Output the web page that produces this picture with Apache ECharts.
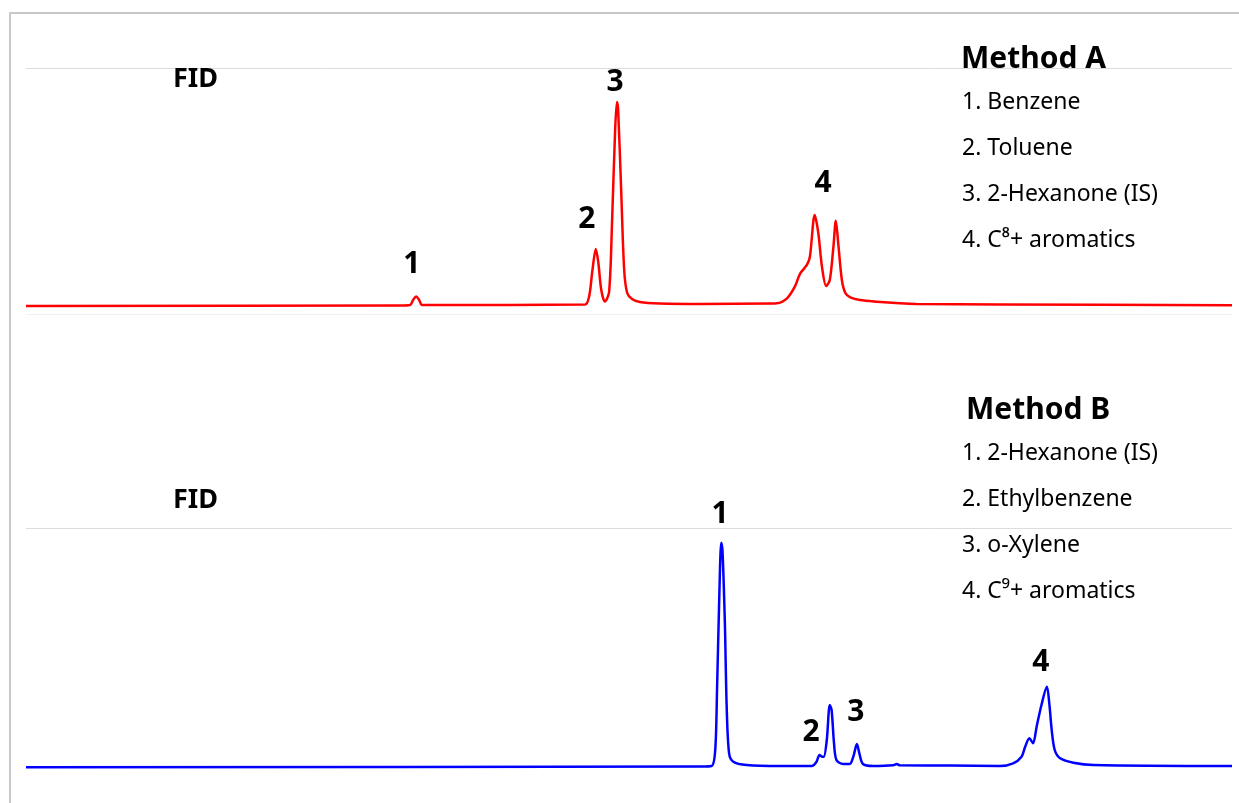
<!DOCTYPE html>
<html><head><meta charset="utf-8">
<script src="https://cdn.jsdelivr.net/npm/echarts@6/dist/echarts.min.js"></script>
<style>html,body{margin:0;padding:0;background:#fff}#c{width:1239px;height:803px}</style>
</head><body><div id="c"></div>
<script>
// Method A (red trace): retention time (min) and detector signal (relative units)
const timeA = [0, 6.20, 6.37, 6.42, 6.47, 6.52, 6.57, 6.87, 9.27, 9.34, 9.39, 9.45, 9.49, 9.54, 9.60, 9.67, 9.72, 9.77, 9.80, 9.82, 9.87, 9.92, 9.97, 10.05, 10.18, 10.51, 11.18, 12.34,
  12.45, 12.62, 12.75, 12.84, 12.95, 13.00, 13.08, 13.14, 13.20, 13.27, 13.33, 13.39, 13.43, 13.47, 13.53, 13.59, 13.67, 13.83, 14.11, 14.49, 14.77, 16.15, 20];
const signalA = [3.25, 3.46, 3.66, 5.69, 7.11, 5.69, 3.66, 3.66, 3.86, 7.32, 17.07, 26.42, 21.14, 9.76, 5.08, 8.94, 38.2, 74.8, 86.2, 83.0, 50.4, 17.9, 8.54, 6.1, 4.88, 4.27, 4.07, 4.27,
  4.35, 6.38, 11.10, 16.54, 19.92, 23.29, 40.24, 32.80, 19.23, 11.38, 13.82, 27.36, 37.93, 28.74, 13.82, 8.41, 6.79, 5.69, 5.0, 4.35, 4.07, 3.86, 3.54];
// Method B (blue trace)
const timeB = [0, 11.18, 11.37, 11.43, 11.46, 11.50, 11.53, 11.55, 11.59, 11.62, 11.66, 11.73, 11.95, 12.50, 13.03, 13.11, 13.16, 13.20, 13.23, 13.28, 13.33, 13.36, 13.40, 13.44, 13.55, 13.66, 13.72, 13.78, 13.82, 13.88, 14.05, 14.38, 14.44, 14.49,
  15.32, 16.15, 16.37, 16.51, 16.57, 16.64, 16.70, 16.76, 16.84, 16.93, 16.97, 17.01, 17.06, 17.15, 17.37, 17.70, 20];
const signalB = [1.12, 1.45, 1.65, 8.26, 33.06, 74.38, 93.93, 90.91, 60.62, 26.16, 6.90, 3.43, 2.07, 1.65, 1.65, 3.43, 6.20, 5.50, 5.50, 12.40, 26.86, 24.79, 11.03, 4.13, 2.48, 2.48, 5.50, 10.74, 6.90, 2.48, 1.65, 1.94, 2.48, 1.94,
  1.86, 1.65, 2.77, 5.50, 9.63, 13.10, 11.03, 17.89, 26.86, 34.42, 27.56, 16.53, 8.26, 4.83, 3.02, 2.07, 1.65];
// Peak number labels (time, level)
const peakNamesA = ['1', '2', '3', '4'];
const peakTimeA = [6.40, 9.30, 9.77, 13.22];
const peakLevelA = [20.3, 38.6, 94.0, 53.0];
const peakNamesB = ['1', '2', '3', '4'];
const peakTimeB = [11.51, 13.02, 13.76, 16.83];
const peakLevelB = [105.4, 15.7, 23.6, 44.6];
// Legend texts
const titleA = 'Method A';
const listA = ['1. Benzene', '2. Toluene', '3. 2-Hexanone (IS)', '4. C\u2078+ aromatics'];
const titleB = 'Method B';
const listB = ['1. 2-Hexanone (IS)', '2. Ethylbenzene', '3. o-Xylene', '4. C\u2079+ aromatics'];
const detector = 'FID';

const FONT = '"Noto Sans", sans-serif';
const chart = echarts.init(document.getElementById('c'));
const zip = (a, b) => a.map((v, i) => [v, b[i]]);
const peaks = (n, t, l) => n.map((s, i) => ({ value: [t[i], l[i]], name: s }));

function xAxis(idx) {
  return { gridIndex: idx, type: 'value', min: 0, max: 20, show: false };
}
function yAxis(idx, colors) {
  return { gridIndex: idx, type: 'value', min: 0, max: 100, interval: 100,
    axisLine: { show: false }, axisTick: { show: false }, axisLabel: { show: false },
    splitLine: { show: true, lineStyle: { color: colors, width: 1 } } };
}
const txt = (x, y, s, font) => ({ type: 'text', left: x, top: y, z: 100, style: { text: s, font: font, fill: '#000' } });
const graphic = [
  { type: 'line', shape: { x1: 10, y1: 13, x2: 1239, y2: 13 }, style: { stroke: '#c8c8c8', lineWidth: 2 } },
  { type: 'line', shape: { x1: 10, y1: 12, x2: 10, y2: 803 }, style: { stroke: '#c8c8c8', lineWidth: 2 } },
  txt(173, 66, detector, 'bold 27px ' + FONT),
  txt(173, 487, detector, 'bold 27px ' + FONT),
  txt(961, 44, titleA, 'bold 30px ' + FONT),
  txt(966, 395, titleB, 'bold 30px ' + FONT)
];
listA.forEach((s, i) => graphic.push(txt(962, 91 + i * 46, s, '23px ' + FONT)));
listB.forEach((s, i) => graphic.push(txt(962, 442 + i * 46, s, '23px ' + FONT)));

const labelSeries = (xi, data) => ({
  type: 'scatter', xAxisIndex: xi, yAxisIndex: xi, symbolSize: 0, clip: false, silent: true, z: 10,
  itemStyle: { opacity: 1 },
  data: data,
  label: { show: true, position: 'inside', formatter: p => p.name, fontFamily: FONT, fontWeight: 'bold', fontSize: 30, color: '#000', textBorderWidth: 0, opacity: 1 }
});

chart.setOption({
  animation: false,
  backgroundColor: '#fff',
  grid: [
    { left: 26, right: 7, top: 68, height: 246 },
    { left: 26, right: 7, top: 528, height: 242 }
  ],
  xAxis: [xAxis(0), xAxis(1)],
  yAxis: [yAxis(0, ['#f0f0f0', '#dcdcdc']), yAxis(1, ['rgba(0,0,0,0)', '#dcdcdc'])],
  graphic: graphic,
  series: [
    { type: 'line', xAxisIndex: 0, yAxisIndex: 0, data: zip(timeA, signalA), showSymbol: false, smooth: 0.3,
      lineStyle: { color: '#ff0000', width: 2.5 }, silent: true },
    { type: 'line', xAxisIndex: 1, yAxisIndex: 1, data: zip(timeB, signalB), showSymbol: false, smooth: 0.3,
      lineStyle: { color: '#0000ff', width: 2.5 }, silent: true },
    labelSeries(0, peaks(peakNamesA, peakTimeA, peakLevelA)),
    labelSeries(1, peaks(peakNamesB, peakTimeB, peakLevelB))
  ]
});
</script></body></html>
